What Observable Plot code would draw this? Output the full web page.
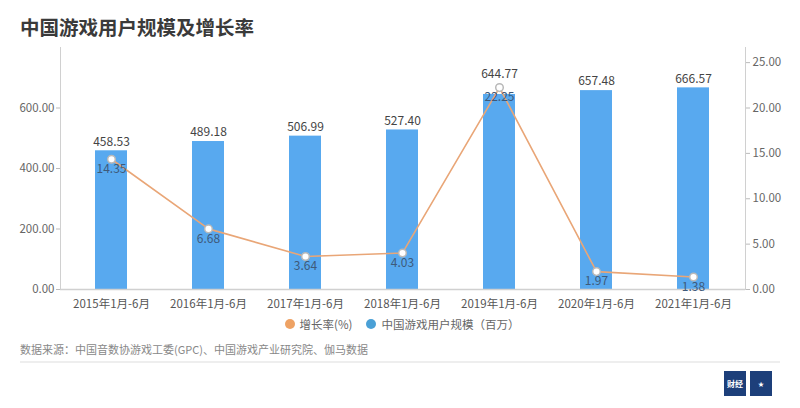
<!DOCTYPE html>
<html>
<head>
<meta charset="utf-8">
<script src="https://cdn.jsdelivr.net/npm/d3@7"></script>
<script src="https://cdn.jsdelivr.net/npm/@observablehq/plot@0.6"></script>
<style>
  body { margin: 0; background: #fff; font-family: "Noto Sans CJK SC", "Noto Sans", sans-serif; }
  #wrap { position: relative; width: 800px; height: 408px; overflow: hidden; }
  #title { position: absolute; left: 20px; top: 12px; font-size: 19.5px; font-weight: bold; color: #3a3a3a; }
  #chart { position: absolute; left: 0; top: 0; }
  #legend { position: absolute; left: 0; width: 800px; top: 316px; font-size: 11.5px; color: #666; display: flex; justify-content: center; gap: 14px; padding-left: 2px; }
  #legend span.item { display: flex; align-items: center; }
  #legend i { display: inline-block; width: 10px; height: 10px; border-radius: 50%; margin-right: 5px; }
  #caption { position: absolute; left: 20px; top: 341px; font-size: 11px; color: #888; }
  #sep { position: absolute; left: 20px; top: 361px; width: 760px; height: 2px; background: #eee; }
  .logo { position: absolute; top: 371px; width: 22px; height: 25px; background: #1d3f7a; color: #fff; font-size: 8px; font-weight: bold; display: flex; align-items: center; justify-content: center; line-height: 1; }
</style>
</head>
<body>
<div id="wrap">
  <div id="title">中国游戏用户规模及增长率</div>
  <div id="chart"></div>
  <div id="legend"></div>
  <div id="caption"></div>
  <div id="sep"></div>
  <div class="logo" style="left:724px">财经</div>
  <div class="logo" style="left:750px;font-size:6px">★</div>
</div>
<script>
const categories = ["2015年1月-6月", "2016年1月-6月", "2017年1月-6月", "2018年1月-6月", "2019年1月-6月", "2020年1月-6月", "2021年1月-6月"];
const users = [458.53, 489.18, 506.99, 527.40, 644.77, 657.48, 666.57];
const growth = [14.35, 6.68, 3.64, 4.03, 22.25, 1.97, 1.38];
const leftTicks = [0, 200, 400, 600];
const rightTicks = [0, 5, 10, 15, 20, 25];
const seriesNames = ["增长率(%)", "中国游戏用户规模（百万）"];
const seriesColors = ["#eea264", "#4aa0d6"];
const source = "数据来源：中国音数协游戏工委(GPC)、中国游戏产业研究院、伽马数据";

const ratio = 30; // right axis = left axis / 30
const data = categories.map((c, i) => ({cat: c, users: users[i], growth: growth[i], g: growth[i] * ratio}));

const chart = Plot.plot({
  width: 800,
  height: 320,
  marginTop: 47,
  marginBottom: 31,
  marginLeft: 60,
  marginRight: 55,
  style: {fontFamily: "'Noto Sans CJK SC', sans-serif", fontSize: "11.5px", color: "#666", background: "transparent"},
  x: {domain: categories, paddingInner: 0.67, paddingOuter: 0.335, label: null},
  y: {domain: [0, 800], label: null},
  marks: [
    Plot.barY(data, {x: "cat", y: "users", fill: "#58a9ef"}),
    Plot.axisY(leftTicks, {anchor: "left", tickFormat: d => d.toFixed(2), tickSize: 4, tickPadding: 2, stroke: "#bbb", fill: "#666", fontSize: 11.5}),
    Plot.axisY(rightTicks.map(d => d * ratio), {anchor: "right", tickFormat: d => (d / ratio).toFixed(2), tickSize: 4, tickPadding: 3, stroke: "#bbb", fill: "#666", fontSize: 11.5}),
    Plot.axisX({tickSize: 0, tickPadding: 10, fill: "#555", fontSize: 11.5}),
    Plot.frame({anchor: "left", stroke: "#d0d0d0"}),
    Plot.frame({anchor: "right", stroke: "#d0d0d0"}),
    Plot.ruleY([0], {stroke: "#d0d0d0", strokeWidth: 1.5}),
    Plot.lineY(data, {x: "cat", y: "g", stroke: "#e9a677", strokeWidth: 1.6}),
    Plot.dot(data, {x: "cat", y: "g", r: 3.8, fill: "#fff", stroke: "#b9b9b9", strokeWidth: 1.5}),
    Plot.text(data, {x: "cat", y: d => Math.max(d.users, d.g + 16), text: d => d.users.toFixed(2), dy: -9, fill: "#444", fontSize: 12}),
    Plot.text(data, {x: "cat", y: "g", text: d => d.growth.toFixed(2), dy: 10, fill: "#3e5a7a", fontSize: 12})
  ]
});
document.getElementById("chart").appendChild(chart);

const legend = document.getElementById("legend");
seriesNames.forEach((n, i) => {
  const s = document.createElement("span");
  s.className = "item";
  s.innerHTML = `<i style="background:${seriesColors[i]}"></i>${n}`;
  legend.appendChild(s);
});
document.getElementById("caption").textContent = source;
</script>
</body>
</html>
